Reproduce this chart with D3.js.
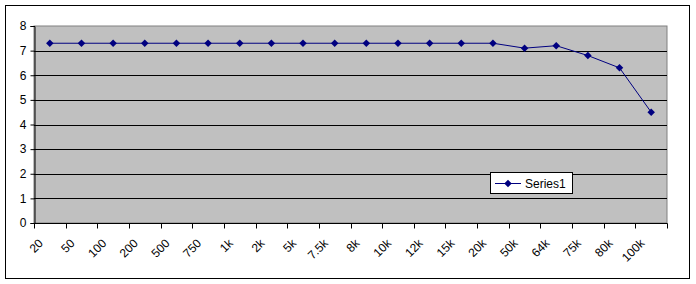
<!DOCTYPE html>
<html><head><meta charset="utf-8">
<script src="https://cdn.jsdelivr.net/npm/d3@7"></script>
<style>body{margin:0;background:#fff}svg{display:block}text{font-family:"Liberation Sans",Arial,sans-serif;font-size:12px}</style>
</head><body>
<svg id="c" width="696" height="284"></svg>
<script>
const categories = ["20","50","100","200","500","750","1k","2k","5k","7.5k","8k","10k","12k","15k","20k","50k","64k","75k","80k","100k"];
const series1 = [7.3,7.3,7.3,7.3,7.3,7.3,7.3,7.3,7.3,7.3,7.3,7.3,7.3,7.3,7.3,7.1,7.2,6.8,6.3,4.5];
const yTicks = [0,1,2,3,4,5,6,7,8];
const seriesName = "Series1";

const svg = d3.select("#c");
const L = 34, R = 667, T = 26, B = 223;
svg.append("rect").attr("x",5.5).attr("y",5.5).attr("width",684).attr("height",273).attr("fill","#fff").attr("stroke","#000");
svg.append("rect").attr("x",L).attr("y",T).attr("width",R-L).attr("height",B-T).attr("fill","#c0c0c0").attr("stroke","#808080");

const x = d3.scaleBand().domain(categories).range([L,R]);
const y = d3.scaleLinear().domain([0,8]).range([B,T]);

svg.append("g").selectAll("line").data(yTicks.filter(d=>d>0&&d<8)).join("line")
  .attr("x1",L).attr("x2",R).attr("y1",d=>Math.round(y(d))+0.5).attr("y2",d=>Math.round(y(d))+0.5).attr("stroke","#000");

const yAxis = svg.append("g").attr("transform",`translate(${L+0.5},0)`)
  .call(d3.axisLeft(y).tickValues(yTicks).tickSize(4).tickPadding(4).tickFormat(d3.format("d")));
yAxis.select(".domain").attr("stroke","#000");
yAxis.selectAll("text").attr("fill","#000").style("font-size","12px");

const xg = svg.append("g").attr("transform",`translate(0,${B+0.5})`);
xg.append("line").attr("x1",L).attr("x2",R+0.5).attr("stroke","#000");
xg.selectAll("line.t").data(d3.range(categories.length+1)).join("line").attr("class","t")
  .attr("x1",i=>Math.round(L+i*x.step())+0.5).attr("x2",i=>Math.round(L+i*x.step())+0.5).attr("y1",0).attr("y2",5).attr("stroke","#000");
xg.selectAll("text").data(categories).join("text")
  .attr("text-anchor","end")
  .attr("transform",d=>`translate(${x(d)+x.bandwidth()/2-6},${20.5}) rotate(-45)`)
  .text(d=>d);

const line = d3.line().x((d,i)=>x(categories[i])+x.bandwidth()/2).y(d=>y(d));
svg.append("path").datum(series1).attr("d",line).attr("fill","none").attr("stroke","#000080").attr("stroke-width",1);
const diamond = d3.symbol().type(d3.symbolDiamond2).size(36);
svg.append("g").selectAll("path").data(series1).join("path")
  .attr("transform",(d,i)=>`translate(${x(categories[i])+x.bandwidth()/2},${y(d)})`)
  .attr("d",diamond).attr("fill","#000080");

const lg = svg.append("g");
lg.append("rect").attr("x",490.5).attr("y",172.5).attr("width",82).attr("height",21).attr("fill","#fff").attr("stroke","#000");
lg.append("line").attr("x1",495).attr("x2",521).attr("y1",183.5).attr("y2",183.5).attr("stroke","#000080");
lg.append("path").attr("transform","translate(508,183.5)").attr("d",diamond).attr("fill","#000080");
lg.append("text").attr("x",525).attr("y",188).text(seriesName);
</script>
</body></html>
